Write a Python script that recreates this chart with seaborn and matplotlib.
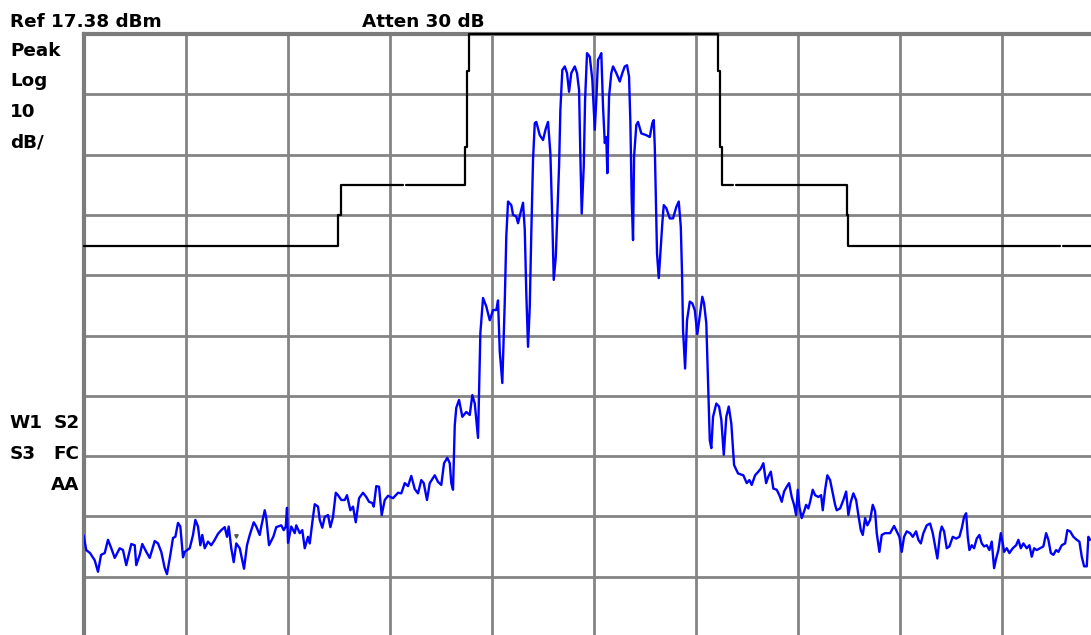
import numpy as np
import pandas as pd
import matplotlib
matplotlib.use("Agg")
import matplotlib.pyplot as plt
import seaborn as sns

# ---------------- data ----------------
ref_level_dbm = 17.38
db_per_div = 10
n_divs = 10

# spectrum trace: frequency in screen divisions, level in dBm
trace_freq_div = [
    0.000, 0.027, 0.064, 0.110, 0.142, 0.172, 0.208, 0.240, 0.272, 0.306,
    0.355, 0.387, 0.419, 0.468, 0.502, 0.517, 0.551, 0.576, 0.615, 0.649,
    0.698, 0.730, 0.762, 0.796, 0.818, 0.851, 0.877, 0.900, 0.926, 0.949,
    0.975, 0.992, 1.041, 1.073, 1.096, 1.122, 1.145, 1.164, 1.188, 1.220,
    1.252, 1.286, 1.318, 1.350, 1.384, 1.406, 1.423, 1.448, 1.472, 1.497,
    1.531, 1.573, 1.602, 1.629, 1.668, 1.693, 1.727, 1.742, 1.776, 1.791,
    1.818, 1.860, 1.889, 1.938, 1.962, 1.982, 1.994, 2.004, 2.036, 2.070,
    2.085, 2.119, 2.144, 2.168, 2.200, 2.217, 2.249, 2.266, 2.298, 2.315,
    2.340, 2.364, 2.396, 2.419, 2.445, 2.472, 2.494, 2.526, 2.560, 2.582,
    2.615, 2.641, 2.668, 2.700, 2.739, 2.771, 2.798, 2.830, 2.844, 2.869,
    2.896, 2.922, 2.952, 2.984, 3.033, 3.082, 3.114, 3.148, 3.180, 3.212,
    3.246, 3.278, 3.310, 3.334, 3.366, 3.393, 3.442, 3.474, 3.506, 3.533,
    3.565, 3.589, 3.604, 3.621, 3.638, 3.653, 3.680, 3.712, 3.751, 3.785,
    3.810, 3.834, 3.849, 3.866, 3.876, 3.889, 3.915, 3.947, 3.981, 4.013,
    4.045, 4.062, 4.079, 4.104, 4.128, 4.143, 4.160, 4.192, 4.209, 4.241,
    4.258, 4.290, 4.307, 4.324, 4.339, 4.356, 4.373, 4.388, 4.405, 4.422,
    4.437, 4.471, 4.503, 4.530, 4.552, 4.575, 4.594, 4.608, 4.628, 4.643,
    4.660, 4.673, 4.692, 4.716, 4.738, 4.758, 4.780, 4.814, 4.836, 4.856,
    4.869, 4.882, 4.902, 4.915, 4.934, 4.961, 4.986, 5.010, 5.025, 5.042,
    5.059, 5.074, 5.091, 5.108, 5.123, 5.133, 5.150, 5.172, 5.189, 5.221,
    5.255, 5.280, 5.304, 5.326, 5.346, 5.359, 5.372, 5.385, 5.395, 5.417,
    5.434, 5.466, 5.515, 5.549, 5.574, 5.588, 5.598, 5.608, 5.620, 5.637,
    5.653, 5.672, 5.686, 5.711, 5.745, 5.777, 5.809, 5.833, 5.853, 5.865,
    5.875, 5.895, 5.914, 5.941, 5.966, 5.990, 6.015, 6.039, 6.064, 6.081,
    6.103, 6.120, 6.137, 6.152, 6.169, 6.201, 6.228, 6.250, 6.274, 6.299,
    6.323, 6.348, 6.375, 6.414, 6.466, 6.499, 6.525, 6.548, 6.581, 6.613,
    6.637, 6.662, 6.689, 6.711, 6.735, 6.760, 6.793, 6.819, 6.842, 6.865,
    6.891, 6.914, 6.940, 6.963, 6.983, 6.999, 7.015, 7.038, 7.061, 7.081,
    7.103, 7.120, 7.146, 7.169, 7.201, 7.228, 7.244, 7.267, 7.289, 7.316,
    7.342, 7.365, 7.381, 7.414, 7.446, 7.473, 7.495, 7.519, 7.544, 7.571,
    7.593, 7.617, 7.636, 7.659, 7.681, 7.708, 7.734, 7.757, 7.773, 7.799,
    7.822, 7.855, 7.904, 7.943, 7.969, 7.995, 8.018, 8.041, 8.067, 8.100,
    8.126, 8.159, 8.181, 8.205, 8.230, 8.263, 8.296, 8.322, 8.345, 8.367,
    8.394, 8.410, 8.433, 8.459, 8.485, 8.518, 8.551, 8.583, 8.606, 8.629,
    8.649, 8.665, 8.681, 8.704, 8.727, 8.753, 8.779, 8.802, 8.825, 8.851,
    8.877, 8.900, 8.923, 8.943, 8.965, 8.989, 9.008, 9.021, 9.047, 9.073,
    9.106, 9.139, 9.161, 9.185, 9.210, 9.243, 9.269, 9.292, 9.315, 9.341,
    9.374, 9.406, 9.433, 9.455, 9.479, 9.504, 9.531, 9.553, 9.586, 9.619,
    9.641, 9.668, 9.700, 9.733, 9.759, 9.782, 9.805, 9.831, 9.847, 9.864,
]
trace_level_dbm = [
    -65.7, -68.2, -68.7, -69.9, -71.8, -69.0, -68.7, -66.5, -67.9, -69.5,
    -67.9, -68.2, -70.7, -67.2, -67.4, -70.7, -69.0, -67.2, -68.5, -69.5,
    -66.7, -67.1, -68.5, -71.2, -72.2, -69.0, -66.2, -66.0, -63.7, -64.3,
    -69.4, -68.5, -67.9, -65.7, -63.2, -64.3, -67.4, -65.7, -67.9, -66.8,
    -67.4, -66.5, -65.5, -64.9, -64.4, -66.0, -64.3, -67.9, -70.2, -67.1,
    -67.9, -71.3, -67.4, -65.7, -63.6, -64.3, -65.7, -64.3, -61.6, -62.9,
    -67.4, -66.0, -64.4, -64.1, -64.9, -64.3, -61.2, -67.0, -64.3, -65.4,
    -64.1, -65.4, -64.9, -67.9, -66.0, -67.1, -62.7, -60.6, -61.0, -63.2,
    -64.5, -62.7, -62.4, -64.4, -62.7, -58.7, -59.1, -59.9, -59.9, -59.1,
    -61.6, -61.0, -63.6, -59.6, -58.7, -59.4, -60.2, -60.4, -61.0, -57.6,
    -57.7, -62.4, -59.9, -59.2, -59.6, -58.7, -58.8, -57.1, -57.6, -55.9,
    -58.1, -58.8, -56.6, -57.1, -59.9, -57.1, -55.8, -56.9, -57.4, -53.8,
    -52.9, -53.8, -57.1, -58.2, -47.5, -44.6, -43.3, -46.1, -45.3, -45.8,
    -42.5, -43.9, -46.6, -49.6, -42.2, -32.2, -26.4, -27.8, -30.1, -28.4,
    -28.4, -26.8, -35.3, -40.5, -27.0, -16.2, -10.4, -11.0, -12.6, -12.9,
    -14.0, -11.8, -10.6, -15.1, -25.6, -34.5, -27.8, -15.6, -3.5, 2.6,
    2.8, 0.6, -0.2, 1.7, 2.8, -2.4, -13.5, -23.4, -19.6, -12.4,
    -4.6, 4.8, 11.4, 12.0, 10.9, 7.8, 10.9, 12.0, 10.9, 8.1,
    -3.0, -12.4, -4.6, 6.4, 14.2, 13.6, 9.8, 1.5, 6.4, 13.1,
    13.6, 14.2, 5.3, -0.7, 0.3, -5.7, 7.0, 10.9, 12.0, 10.9,
    9.5, 10.9, 12.0, 12.2, 10.3, 2.6, -10.2, -16.8, -3.0, 2.3,
    2.8, 0.9, 0.6, 0.3, 2.6, 3.1, -1.3, -9.6, -19.0, -23.1,
    -19.0, -14.0, -11.0, -11.5, -13.2, -13.2, -11.3, -10.4, -14.6, -22.3,
    -31.7, -38.1, -30.1, -27.0, -27.3, -28.4, -32.4, -29.3, -26.2, -27.3,
    -30.6, -40.6, -50.0, -51.3, -46.1, -43.9, -44.4, -46.6, -52.4, -46.1,
    -44.4, -47.2, -54.1, -55.5, -55.8, -57.1, -56.6, -57.4, -55.8, -55.2,
    -54.7, -53.8, -57.1, -56.0, -55.2, -58.0, -58.2, -59.1, -60.2, -58.5,
    -57.7, -57.1, -59.4, -60.7, -62.4, -58.2, -61.0, -62.9, -61.8, -60.7,
    -61.3, -60.2, -58.2, -59.1, -59.4, -59.1, -61.6, -58.2, -55.8, -56.6,
    -58.8, -60.7, -61.6, -61.3, -59.9, -58.5, -62.4, -60.2, -58.8, -59.9,
    -62.4, -64.9, -65.7, -62.9, -64.1, -63.2, -60.7, -61.8, -65.4, -68.5,
    -65.7, -65.4, -65.4, -64.2, -65.1, -66.0, -68.5, -66.0, -65.1, -65.4,
    -66.0, -65.1, -66.5, -67.1, -65.4, -64.1, -63.8, -65.4, -67.6, -69.6,
    -65.4, -64.3, -65.1, -67.9, -67.6, -66.0, -66.3, -66.0, -64.6, -62.7,
    -62.1, -66.0, -68.2, -67.4, -67.9, -66.3, -65.7, -67.1, -67.6, -67.4,
    -68.2, -66.8, -71.2, -69.6, -68.2, -65.4, -67.1, -68.5, -67.9, -68.7,
    -67.9, -67.4, -66.5, -67.9, -67.1, -67.9, -67.4, -69.3, -67.9, -68.2,
    -67.9, -67.6, -65.4, -66.5, -68.7, -69.0, -68.2, -68.5, -67.4, -67.1,
    -64.9, -65.1, -66.0, -66.5, -66.8, -69.3, -70.9, -70.9, -66.0, -66.5,
]

# limit mask (black step line); segment id marks the small breaks in the line
mask_freq_div = [
    0.000, 2.494, 2.494, 2.524, 2.524, 3.131,
    3.165, 3.734, 3.734, 3.755, 3.755, 3.778, 3.778, 6.221, 6.221, 6.240, 6.240, 6.254, 6.254, 6.365,
    6.397, 7.479, 7.479, 7.495, 7.495, 9.569,
    9.594, 10.000,
]
mask_level_dbm = [
    -17.7, -17.7, -12.6, -12.6, -7.6, -7.6,
    -7.6, -7.6, -1.4, -1.4, 11.2, 11.2, 17.38, 17.38, 11.2, 11.2, -1.4, -1.4, -7.6, -7.6,
    -7.6, -7.6, -12.6, -12.6, -17.7, -17.7,
    -17.7, -17.7,
]
mask_segment = [0] * 6 + [1] * 14 + [2] * 6 + [3] * 2

# annotation texts
header_left = "Ref 17.38 dBm"
header_mid = "Atten 30 dB"
side_top = ["Peak", "Log", "10", "dB/"]
side_bottom = [("W1", "S2"), ("S3", "FC"), ("", "AA")]

# ---------------- plot ----------------
sns.set_style("white")
plt.rcParams["font.family"] = ["DejaVu Sans"]

W, H = 1091, 635
fig = plt.figure(figsize=(W / 100, H / 100), dpi=100)
fig.patch.set_facecolor("white")

# axes spans 10 divisions; the right and bottom edges run just off the screen
left_px, top_px, div_w, div_h = 83.5, 34.0, 102.05, 60.3
ax = fig.add_axes([left_px / W, 1 - (top_px + n_divs * div_h) / H,
                   n_divs * div_w / W, n_divs * div_h / H])

bottom_level = ref_level_dbm - n_divs * db_per_div
ax.set_xlim(0, n_divs)
ax.set_ylim(bottom_level, ref_level_dbm)
ax.set_xticks(np.arange(0, n_divs + 1))
ax.set_yticks(ref_level_dbm - db_per_div * np.arange(0, n_divs + 1))
ax.tick_params(length=0, labelbottom=False, labelleft=False)
ax.grid(True, color="#848484", linewidth=2.0)
ax.set_axisbelow(True)
for side, sp in ax.spines.items():
    sp.set_color("#7c7c7c")
    sp.set_linewidth(3.0)

trace_df = pd.DataFrame({"freq": trace_freq_div, "level": trace_level_dbm})
sns.lineplot(data=trace_df, x="freq", y="level", sort=False, estimator=None,
             color="#0000ff", linewidth=1.7, ax=ax, zorder=4)

mask_df = pd.DataFrame({"freq": mask_freq_div, "level": mask_level_dbm,
                        "seg": mask_segment})
sns.lineplot(data=mask_df, x="freq", y="level", units="seg", sort=False,
             estimator=None, color="black", linewidth=1.6, ax=ax, zorder=5)
for ln in ax.lines[1:]:
    ln.set_clip_on(False)

ax.set_xlabel("")
ax.set_ylabel("")
if ax.get_legend() is not None:
    ax.get_legend().remove()

# small marker glyph on the trace
ax.plot([1.49], [-65.8], marker="v", markersize=2.5, color="#555555",
        linestyle="none", zorder=6)

# ---------------- screen annotations ----------------
fs = 13.2
def ftext(x, y, s, ha="left"):
    fig.text(x / W, 1 - y / H, s, ha=ha, va="baseline", fontsize=fs,
             fontweight="bold", color="black")

ftext(10, 26.7, header_left)
ftext(362, 26.7, header_mid)
for i, s in enumerate(side_top):
    ftext(10, 55.5 + i * 30.6, s)
for i, (a, b) in enumerate(side_bottom):
    y = 428 + i * 31
    if a:
        ftext(9.5, y, a)
    ftext(79.5, y, b, ha="right")

fig.savefig("out.png", dpi=100, facecolor="white")
